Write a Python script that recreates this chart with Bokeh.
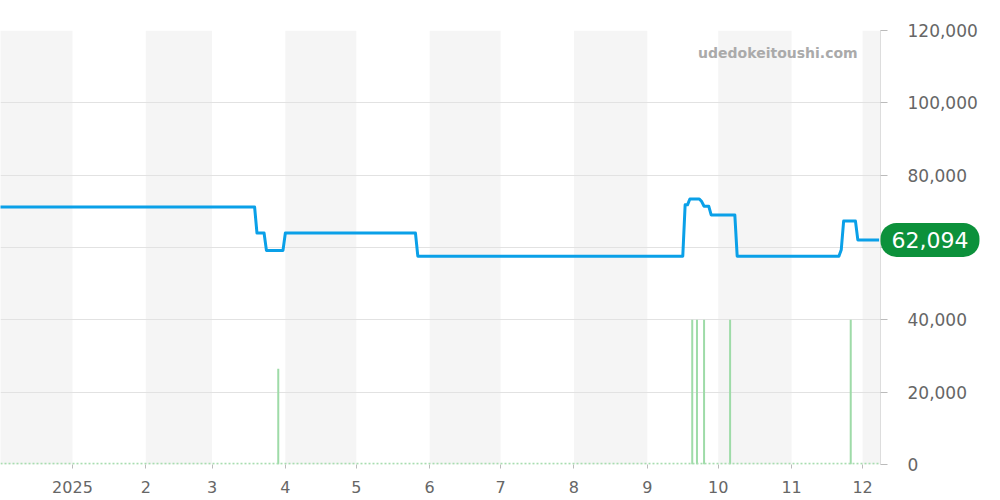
from datetime import datetime
import pandas as pd
from bokeh.plotting import figure
from bokeh.models import Range1d, FixedTicker, NumeralTickFormatter, Label, Span, GridBox
from bokeh.embed import file_html
from bokeh.resources import INLINE

# ---------------- data ----------------
price_dates = ["2024-12-01", "2025-03-19", "2025-03-20", "2025-03-23", "2025-03-24",
               "2025-03-31", "2025-04-01", "2025-05-26", "2025-05-27", "2025-09-16",
               "2025-09-17", "2025-09-18", "2025-09-19", "2025-09-23", "2025-09-24",
               "2025-09-25", "2025-09-27", "2025-09-28", "2025-10-08", "2025-10-09",
               "2025-11-21", "2025-11-22", "2025-11-23", "2025-11-28", "2025-11-29",
               "2025-12-08"]
price_values = [71200, 71200, 64000, 64000, 59200,
                59200, 64000, 64000, 57600, 57600,
                71800, 71800, 73400, 73400, 72700,
                71400, 71400, 69000, 69000, 57600,
                57600, 59400, 67300, 67300, 62094,
                62094]

volume_dates = ["2025-03-29", "2025-09-20", "2025-09-22", "2025-09-25", "2025-10-06", "2025-11-26"]
volume_values = [26.5, 40, 40, 40, 40, 40]

month_ticks = ["2025-01-01", "2025-02-01", "2025-03-01", "2025-04-01", "2025-05-01", "2025-06-01",
               "2025-07-01", "2025-08-01", "2025-09-01", "2025-10-01", "2025-11-01", "2025-12-01"]
month_labels = ["2025", "2", "3", "4", "5", "6", "7", "8", "9", "10", "11", "12"]

shade_starts = ["2024-12-01", "2025-02-01", "2025-04-01", "2025-06-01", "2025-08-01", "2025-10-01", "2025-12-01"]
shade_ends = ["2025-01-01", "2025-03-01", "2025-05-01", "2025-07-01", "2025-09-01", "2025-11-01", "2026-01-01"]

y_ticks = [0, 20000, 40000, 60000, 80000, 100000, 120000]
last_price = 62094
watermark = "udedokeitoushi.com"

# ---------------- helpers ----------------
def ms(s):
    return pd.Timestamp(s).value / 1e6

x_start = ms(datetime(2024, 12, 1, 14))
x_end = ms(datetime(2025, 12, 8, 14))

FONT = "DejaVu Sans"
LABEL_COLOR = "#666666"
FRAME_W, FRAME_H = 880, 434
RIGHT_W, TOP_H, BOTTOM_H = 112, 30, 30

p = figure(frame_width=FRAME_W, frame_height=FRAME_H,
           x_axis_type="datetime", y_axis_location="right",
           x_range=Range1d(x_start, x_end), y_range=Range1d(0, 120000),
           output_backend="svg", toolbar_location=None,
           min_border_left=0, min_border_top=TOP_H, min_border_bottom=BOTTOM_H,
           min_border_right=RIGHT_W)
p.extra_y_ranges = {"vol": Range1d(0, 120)}
p.outline_line_color = None
p.background_fill_color = "white"
p.border_fill_color = "white"

# month bands
bands = p.quad(left=[ms(s) for s in shade_starts], right=[ms(s) for s in shade_ends],
               bottom=0, top=120000, fill_color="#f5f5f5", line_color=None)
bands.level = "image"

# grid
p.xgrid.grid_line_color = None
p.ygrid.grid_line_color = "#e2e2e2"
p.ygrid.grid_line_width = 1
p.yaxis.ticker = FixedTicker(ticks=y_ticks)

# volume baseline (tiny daily volumes)
p.add_layout(Span(location=0.2, dimension="width", y_range_name="vol",
                  line_color="#a8ddb0", line_width=2, line_dash="2 2"))

# volume spikes
vx = [ms(d) for d in volume_dates]
p.segment(x0=vx, y0=[0] * len(vx), x1=vx, y1=volume_values, y_range_name="vol",
          line_color="#9edba8", line_width=2)

# price line
p.line(x=[ms(d) for d in price_dates], y=price_values,
       line_color="#0aa0e8", line_width=3, line_join="round")

# x axis
xa = p.xaxis[0]
xa.ticker = FixedTicker(ticks=[ms(t) for t in month_ticks])
xa.major_label_overrides = {ms(t): lab for t, lab in zip(month_ticks, month_labels)}
xa.axis_line_color = None
xa.major_tick_line_color = "#bbbbbb"
xa.major_tick_out = 4
xa.major_tick_in = 0
xa.minor_tick_line_color = None
xa.major_label_text_font = FONT
xa.major_label_text_font_size = "16px"
xa.major_label_text_color = LABEL_COLOR
xa.major_label_standoff = 12

# y axis (right)
ya = p.yaxis[0]
ya.formatter = NumeralTickFormatter(format="0,0")
ya.axis_line_color = "#dddddd"
ya.major_tick_line_color = "#bbbbbb"
ya.major_tick_out = 7
ya.major_tick_in = 0
ya.minor_tick_line_color = None
ya.major_label_text_font = FONT
ya.major_label_text_font_size = "17px"
ya.major_label_text_color = LABEL_COLOR
ya.major_label_standoff = 20

# watermark
p.add_layout(Label(x=ms(datetime(2025, 11, 28, 22)), y=113900, text=watermark,
                   text_align="right", text_baseline="middle",
                   text_font=FONT, text_font_style="bold", text_font_size="14px",
                   text_color="#aaaaaa"))

# transparent overlay figure (same y scale, frame extended over the axis area)
# so that the last-price badge can sit on top of the right axis
ov_x_end = x_start + (x_end - x_start) * (FRAME_W + RIGHT_W) / FRAME_W
ov = figure(frame_width=FRAME_W + RIGHT_W, frame_height=FRAME_H,
            x_range=Range1d(x_start, ov_x_end), y_range=Range1d(0, 120000),
            output_backend="svg", toolbar_location=None,
            min_border_left=0, min_border_right=0,
            min_border_top=TOP_H, min_border_bottom=BOTTOM_H)
ov.axis.visible = False
ov.grid.visible = False
ov.outline_line_color = None
ov.background_fill_color = None
ov.border_fill_color = None
ov.add_layout(Label(x=x_end, y=last_price, text=f"{last_price:,}",
                    text_align="left", text_baseline="middle",
                    text_font=FONT, text_font_size="22px", text_color="white",
                    background_fill_color="#0c913b", border_radius=16,
                    padding=(11, 9)))

layout = GridBox(children=[(p, 0, 0), (ov, 0, 0)])
open("out.html", "w").write(file_html(layout, INLINE))
